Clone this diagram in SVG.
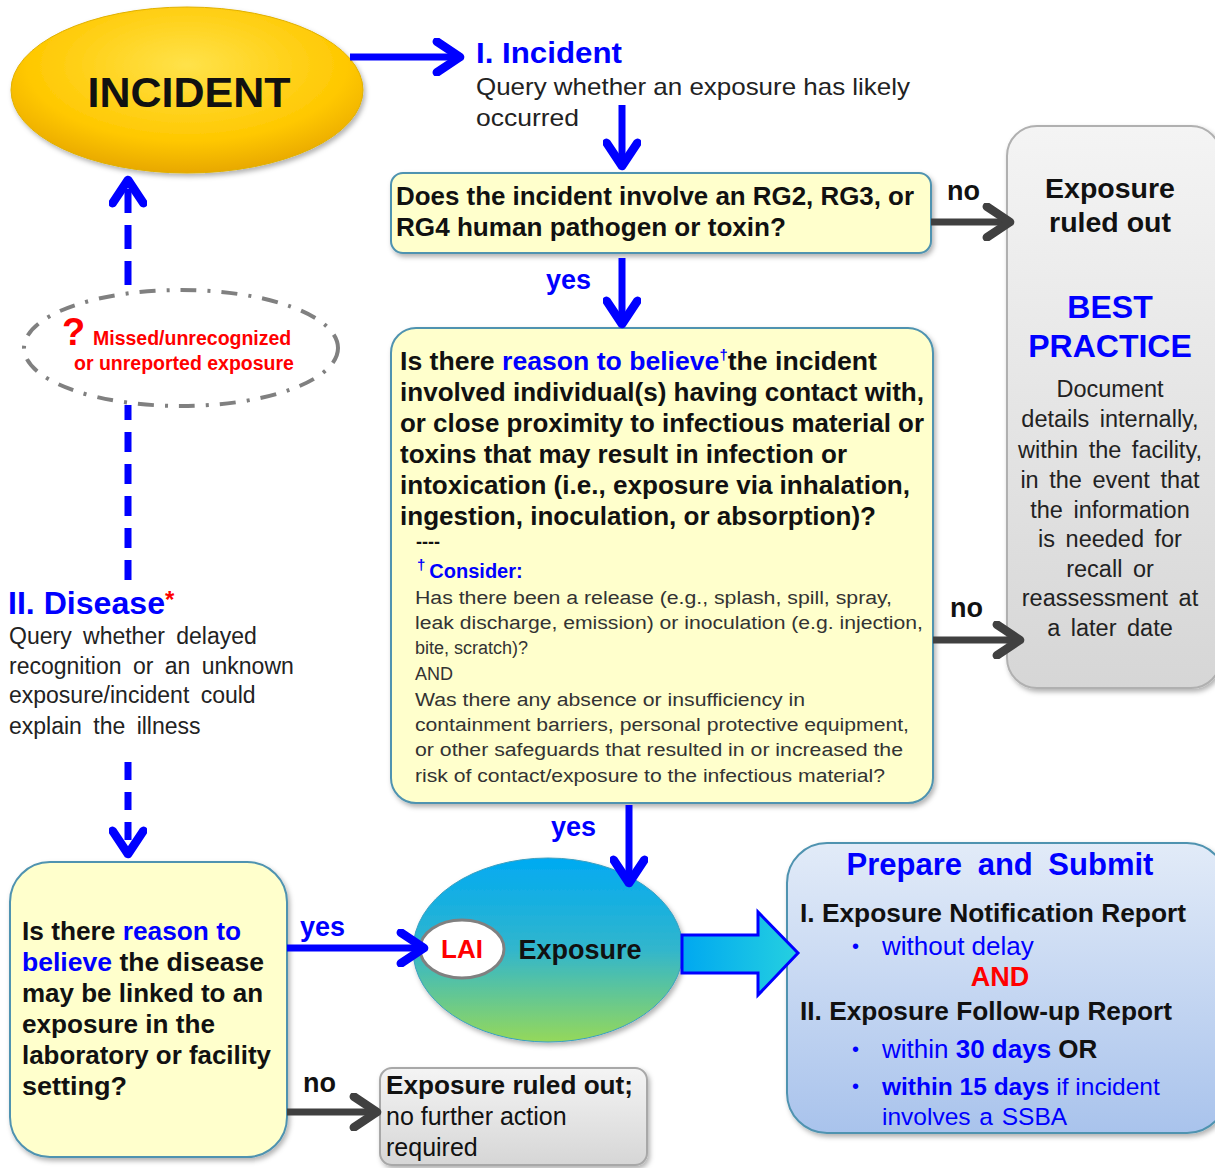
<svg xmlns="http://www.w3.org/2000/svg" width="1215" height="1168" viewBox="0 0 1215 1168">
<defs>
<style>
text{font-family:"Liberation Sans",Arial,sans-serif}
.b{font-weight:bold}
.blue{fill:#0000FF}
.red{fill:#FF0000}
.q{font-size:25px;font-weight:bold;fill:#111}
.s{font-size:18px;fill:#333}
.bp{font-size:23.5px;fill:#222}
.lb{font-size:27px;font-weight:bold}
.yel{fill:#FFFFCC;stroke:#4F93B0;stroke-width:2}
.conn-blue{stroke:#0000FF;stroke-width:7;fill:none}
.conn-grey{stroke:#404040;stroke-width:7;fill:none}
</style>
<radialGradient id="gold" cx="50%" cy="35%" r="65%">
<stop offset="0" stop-color="#FFE24A"/><stop offset="0.7" stop-color="#FFC800"/><stop offset="1" stop-color="#E8A800"/>
</radialGradient>
<linearGradient id="expo" x1="0" y1="0" x2="0" y2="1">
<stop offset="0" stop-color="#00AAF2"/><stop offset="0.5" stop-color="#32B6CC"/><stop offset="1" stop-color="#95D85A"/>
</linearGradient>
<linearGradient id="grey" x1="0" y1="0" x2="0" y2="1">
<stop offset="0" stop-color="#F4F4F4"/><stop offset="1" stop-color="#D6D6D6"/>
</linearGradient>
<linearGradient id="lblue" x1="0" y1="0" x2="0" y2="1">
<stop offset="0" stop-color="#E2EBF8"/><stop offset="1" stop-color="#A9C3EC"/>
</linearGradient>
<linearGradient id="cyan" x1="0" y1="0" x2="1" y2="0">
<stop offset="0" stop-color="#00A8F0"/><stop offset="1" stop-color="#25D0E0"/>
</linearGradient>
<filter id="sh" x="-10%" y="-10%" width="125%" height="125%">
<feDropShadow dx="2" dy="3" stdDeviation="2.5" flood-color="#000" flood-opacity="0.3"/>
</filter>
<marker id="ahB" viewBox="0 0 20 20" refX="16" refY="10" markerWidth="5.5" markerHeight="5.5" orient="auto" markerUnits="strokeWidth">
<path d="M4,2 L16,10 L4,18" fill="none" stroke="#0000FF" stroke-width="4.5" stroke-linecap="round" stroke-linejoin="round"/>
</marker>
<marker id="ahG" viewBox="0 0 20 20" refX="16" refY="10" markerWidth="5.5" markerHeight="5.5" orient="auto" markerUnits="strokeWidth">
<path d="M4,2 L16,10 L4,18" fill="none" stroke="#404040" stroke-width="4.5" stroke-linecap="round" stroke-linejoin="round"/>
</marker>
</defs>
<rect width="1215" height="1168" fill="#FFFFFF"/>

<g id="incident">
<ellipse cx="187" cy="90" rx="176" ry="83" fill="url(#gold)" stroke="#E0B000" stroke-width="1" filter="url(#sh)"/>
<text x="189" y="107" text-anchor="middle" class="b" font-size="43" fill="#111">INCIDENT</text>
</g>

<g id="incident-label">
<text x="476" y="63" class="b blue" font-size="30" textLength="146" lengthAdjust="spacingAndGlyphs">I. Incident</text>
<text x="476" y="95" font-size="24" fill="#222" textLength="434" lengthAdjust="spacingAndGlyphs">Query whether an exposure has likely</text>
<text x="476" y="126" font-size="24" fill="#222" textLength="103" lengthAdjust="spacingAndGlyphs">occurred</text>
</g>

<g id="q1">
<rect x="391" y="173" width="540" height="80" rx="12" class="yel" filter="url(#sh)"/>
<text x="396" y="205" class="q" font-size="24" textLength="518" lengthAdjust="spacingAndGlyphs">Does the incident involve an RG2, RG3, or</text>
<text x="396" y="236" class="q" font-size="24" textLength="390" lengthAdjust="spacingAndGlyphs">RG4 human pathogen or toxin?</text>
</g>

<g id="labels">
<text x="947" y="200" class="lb" fill="#111">no</text>
<text x="546" y="289" class="lb blue">yes</text>
<text x="950" y="617" class="lb" fill="#111">no</text>
<text x="551" y="836" class="lb blue">yes</text>
<text x="300" y="936" class="lb blue">yes</text>
<text x="303" y="1092" class="lb" fill="#111">no</text>
</g>

<g id="ruled-out-best-practice">
<rect x="1007" y="126" width="214" height="562" rx="30" fill="url(#grey)" stroke="#B0B0B0" stroke-width="2" filter="url(#sh)"/>
<text x="1110" y="198" text-anchor="middle" class="b" font-size="28.5" fill="#111">Exposure</text>
<text x="1110" y="232" text-anchor="middle" class="b" font-size="28.5" fill="#111">ruled out</text>
<text x="1110" y="318" text-anchor="middle" class="b blue" font-size="32">BEST</text>
<text x="1110" y="357" text-anchor="middle" class="b blue" font-size="32">PRACTICE</text>
<text x="1110" y="397" text-anchor="middle" class="bp">Document</text>
<text x="1110" y="427" text-anchor="middle" class="bp" word-spacing="4">details internally,</text>
<text x="1110" y="458" text-anchor="middle" class="bp" word-spacing="4">within the facility,</text>
<text x="1110" y="488" text-anchor="middle" class="bp" word-spacing="4">in the event that</text>
<text x="1110" y="518" text-anchor="middle" class="bp" word-spacing="4">the information</text>
<text x="1110" y="547" text-anchor="middle" class="bp" word-spacing="4">is needed for</text>
<text x="1110" y="577" text-anchor="middle" class="bp" word-spacing="4">recall or</text>
<text x="1110" y="606" text-anchor="middle" class="bp" word-spacing="4">reassessment at</text>
<text x="1110" y="636" text-anchor="middle" class="bp" word-spacing="4">a later date</text>
</g>

<g id="q2">
<rect x="391" y="328" width="542" height="475" rx="25" class="yel" filter="url(#sh)"/>
<text x="400" y="370" class="q" textLength="477" lengthAdjust="spacingAndGlyphs">Is there <tspan class="blue">reason to believe</tspan><tspan class="blue" font-size="14" dy="-10">†</tspan><tspan dy="10">the incident</tspan></text>
<text x="400" y="401" class="q" textLength="524" lengthAdjust="spacingAndGlyphs">involved individual(s) having contact with,</text>
<text x="400" y="432" class="q" textLength="524" lengthAdjust="spacingAndGlyphs">or close proximity to infectious material or</text>
<text x="400" y="463" class="q" textLength="447" lengthAdjust="spacingAndGlyphs">toxins that may result in infection or</text>
<text x="400" y="494" class="q" textLength="510" lengthAdjust="spacingAndGlyphs">intoxication (i.e., exposure via inhalation,</text>
<text x="400" y="525" class="q" textLength="476" lengthAdjust="spacingAndGlyphs">ingestion, inoculation, or absorption)?</text>
<text x="416" y="548" class="b" font-size="18" fill="#111">----</text>
<text x="417" y="578" class="b blue" font-size="20"><tspan font-size="15" dy="-8">†</tspan><tspan dx="4" dy="8">Consider:</tspan></text>
<text x="415" y="604" class="s" textLength="477" lengthAdjust="spacingAndGlyphs">Has there been a release (e.g., splash, spill, spray,</text>
<text x="415" y="629" class="s" textLength="508" lengthAdjust="spacingAndGlyphs">leak discharge, emission) or inoculation (e.g. injection,</text>
<text x="415" y="654" class="s">bite, scratch)?</text>
<text x="415" y="680" class="s">AND</text>
<text x="415" y="706" class="s" textLength="390" lengthAdjust="spacingAndGlyphs">Was there any absence or insufficiency in</text>
<text x="415" y="731" class="s" textLength="494" lengthAdjust="spacingAndGlyphs">containment barriers, personal protective equipment,</text>
<text x="415" y="756" class="s" textLength="488" lengthAdjust="spacingAndGlyphs">or other safeguards that resulted in or increased the</text>
<text x="415" y="782" class="s" textLength="470" lengthAdjust="spacingAndGlyphs">risk of contact/exposure to the infectious material?</text>
</g>

<g id="missed">
<ellipse cx="181" cy="348" rx="157" ry="58" fill="none" stroke="#808080" stroke-width="4" stroke-dasharray="16,11,3,11"/>
<text x="62" y="345" class="b red" font-size="38">?</text>
<text x="93" y="345" class="b red" font-size="19.5">Missed/unrecognized</text>
<text x="74" y="370" class="b red" font-size="19.5">or unreported exposure</text>
</g>

<g id="disease-label">
<text x="8" y="614" class="b blue" font-size="31"><tspan textLength="157" lengthAdjust="spacingAndGlyphs">II. Disease</tspan><tspan class="red" font-size="24" dy="-6">*</tspan></text>
<text x="9" y="644" font-size="23" fill="#222" word-spacing="5">Query whether delayed</text>
<text x="9" y="674" font-size="23" fill="#222" word-spacing="5">recognition or an unknown</text>
<text x="9" y="703" font-size="23" fill="#222" word-spacing="5">exposure/incident  could</text>
<text x="9" y="734" font-size="23" fill="#222" word-spacing="5">explain the illness</text>
</g>

<g id="q3">
<rect x="10" y="862" width="277" height="295" rx="40" class="yel" filter="url(#sh)"/>
<text x="22" y="940" class="q" font-size="25.5" textLength="219" lengthAdjust="spacingAndGlyphs">Is there <tspan class="blue">reason to</tspan></text>
<text x="22" y="971" class="q" font-size="25.5" textLength="242" lengthAdjust="spacingAndGlyphs"><tspan class="blue">believe</tspan> the disease</text>
<text x="22" y="1002" class="q" font-size="25.5" textLength="241" lengthAdjust="spacingAndGlyphs">may be linked to an</text>
<text x="22" y="1033" class="q" font-size="25.5" textLength="193" lengthAdjust="spacingAndGlyphs">exposure in the</text>
<text x="22" y="1064" class="q" font-size="25.5" textLength="249" lengthAdjust="spacingAndGlyphs">laboratory or facility</text>
<text x="22" y="1095" class="q" font-size="25.5" textLength="105" lengthAdjust="spacingAndGlyphs">setting?</text>
</g>

<g id="exposure">
<ellipse cx="548" cy="950" rx="135" ry="92" fill="url(#expo)" stroke="#3A9FC0" stroke-width="1" filter="url(#sh)"/>
<ellipse cx="462" cy="949" rx="42" ry="29" fill="#FFFFFF" stroke="#808080" stroke-width="3"/>
<text x="462" y="958" text-anchor="middle" class="b red" font-size="26">LAI</text>
<text x="580" y="959" text-anchor="middle" class="b" font-size="27" fill="#111">Exposure</text>
</g>

<g id="ruled-out-2">
<rect x="380" y="1068" width="267" height="97" rx="12" fill="url(#grey)" stroke="#A8A8A8" stroke-width="2" filter="url(#sh)"/>
<text x="386" y="1094" class="b" font-size="25" fill="#111" textLength="247" lengthAdjust="spacingAndGlyphs">Exposure ruled out;</text>
<text x="386" y="1125" font-size="25" fill="#111">no further action</text>
<text x="386" y="1156" font-size="25" fill="#111">required</text>
</g>

<g id="prepare-submit">
<rect x="787" y="843" width="440" height="290" rx="40" fill="url(#lblue)" stroke="#4F93B0" stroke-width="2" filter="url(#sh)"/>
<text x="1000" y="875" text-anchor="middle" class="b blue" font-size="31" word-spacing="7">Prepare and Submit</text>
<text x="800" y="922" class="b" font-size="25" fill="#111" textLength="386" lengthAdjust="spacingAndGlyphs">I. Exposure Notification Report</text>
<text x="852" y="953" class="blue" font-size="20">•</text>
<text x="882" y="955" class="blue" font-size="26">without delay</text>
<text x="1000" y="986" text-anchor="middle" class="b red" font-size="27">AND</text>
<text x="800" y="1020" class="b" font-size="25" fill="#111" textLength="372" lengthAdjust="spacingAndGlyphs">II. Exposure Follow-up Report</text>
<text x="852" y="1056" class="blue" font-size="20">•</text>
<text x="882" y="1058" class="blue" font-size="26">within <tspan class="b">30 days</tspan> <tspan class="b" fill="#111">OR</tspan></text>
<text x="852" y="1093" class="blue" font-size="20">•</text>
<text x="882" y="1095" class="blue" font-size="24.5"><tspan class="b">within 15 days</tspan> if incident</text>
<text x="882" y="1125" class="blue" font-size="24.5" word-spacing="2">involves a SSBA</text>
</g>

<g id="connectors">
<line class="conn-blue" x1="350" y1="57" x2="460" y2="57" marker-end="url(#ahB)"/>
<line class="conn-blue" x1="622" y1="105" x2="622" y2="166" marker-end="url(#ahB)"/>
<line class="conn-grey" x1="931" y1="222" x2="1010" y2="222" marker-end="url(#ahG)"/>
<line class="conn-blue" x1="622" y1="258" x2="622" y2="324" marker-end="url(#ahB)"/>
<line class="conn-grey" x1="933" y1="640" x2="1020" y2="640" marker-end="url(#ahG)"/>
<line class="conn-blue" x1="629" y1="805" x2="629" y2="883" marker-end="url(#ahB)"/>
<line class="conn-blue" x1="287" y1="948" x2="424" y2="948" marker-end="url(#ahB)"/>
<line class="conn-grey" x1="287" y1="1112" x2="377" y2="1112" marker-end="url(#ahG)"/>
<line class="conn-blue" x1="128" y1="580" x2="128" y2="405" stroke-dasharray="20,12"/>
<line class="conn-blue" x1="128" y1="285" x2="128" y2="180" stroke-dasharray="24,12" marker-end="url(#ahB)"/>
<line class="conn-blue" x1="128" y1="762" x2="128" y2="854" stroke-dasharray="18,12" marker-end="url(#ahB)"/>
<path d="M682,935 L758,935 L758,912 L798,953 L758,995 L758,973 L682,973 Z" fill="url(#cyan)" stroke="#0000FF" stroke-width="3" stroke-linejoin="miter"/>
</g>
</svg>
